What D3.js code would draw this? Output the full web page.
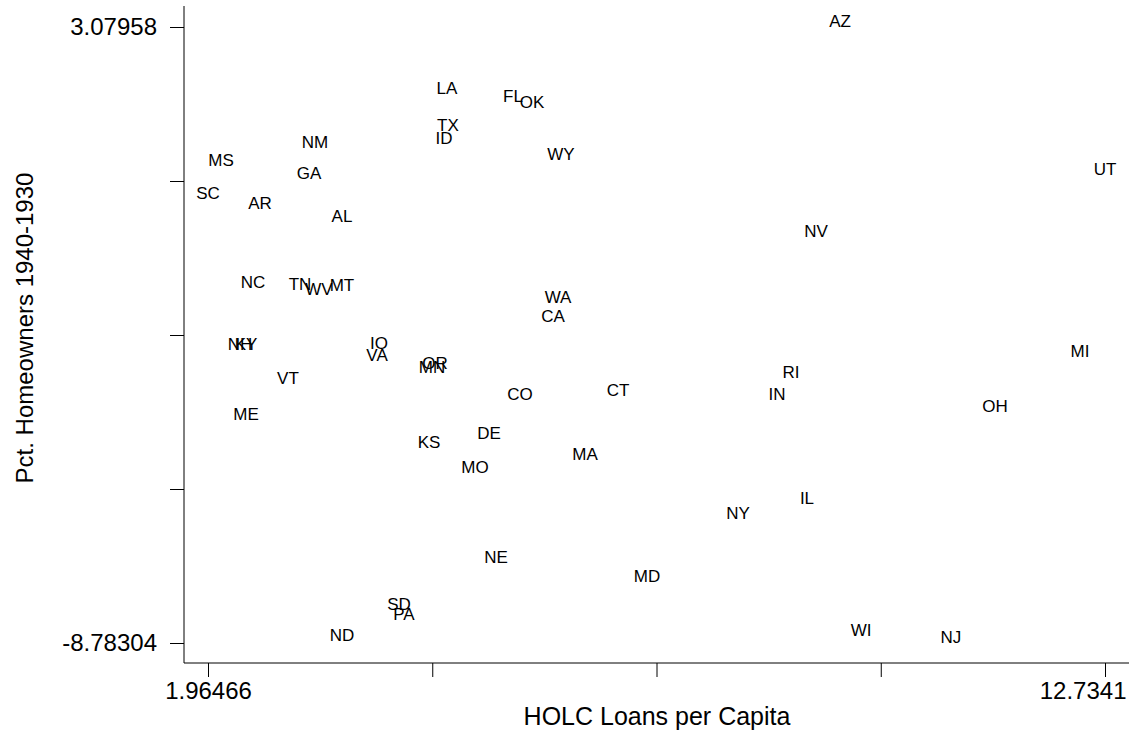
<!DOCTYPE html>
<html>
<head>
<meta charset="utf-8">
<script src="https://cdn.jsdelivr.net/npm/d3@7"></script>
<style>
  body { margin: 0; background: #fff; }
  svg { font-family: "Liberation Sans", Arial, sans-serif; }
</style>
</head>
<body>
<div id="chart"></div>
<script>
// state labels, HOLC loans per capita, change in pct homeowners
const states = ['AZ','LA','FL','OK','TX','ID','NM','MS','WY','GA','UT','SC','AR','AL','NV',
  'NC','TN','WV','MT','WA','CA','NH','KY','IO','VA','OR','MN','MI','RI','VT','IN','CO','CT',
  'OH','ME','DE','KS','MA','MO','IL','NY','NE','MD','SD','PA','WI','ND','NJ'];
const loans = [9.553,4.834,5.627,5.855,4.846,4.798,3.249,2.121,6.203,3.177,12.7341,1.96466,2.589,3.573,9.264,
  2.505,3.069,3.297,3.573,6.167,6.107,2.349,2.421,4.018,3.994,4.690,4.654,12.434,8.964,2.925,8.796,5.711,6.887,
  11.413,2.421,5.338,4.618,6.491,5.170,9.156,8.328,5.422,7.235,4.258,4.318,9.805,3.573,10.885];
const homeowners = [3.07958,1.780,1.626,1.529,1.086,0.817,0.759,0.412,0.509,0.162,0.229,-0.242,-0.416,-0.685,-0.974,
  -1.956,-1.976,-2.091,-2.014,-2.226,-2.592,-3.150,-3.150,-3.112,-3.343,-3.516,-3.593,-3.275,-3.689,-3.786,-4.094,-4.094,-4.036,
  -4.344,-4.498,-4.845,-5.037,-5.268,-5.500,-6.097,-6.386,-7.252,-7.599,-8.157,-8.331,-8.639,-8.735,-8.78304];

const xMin = 1.96466, xMax = 12.7341;
const yMin = -8.78304, yMax = 3.07958;
const xTickLabels = ['1.96466','','','','12.7341'];
const yTickLabels = ['-8.78304','','','','3.07958'];

const width = 1135;
const height = 737;

const svg = d3.select('#chart')
.append('svg')
.attr('width', width)
.attr('height', height);

const x = d3.scaleLinear().domain([xMin, xMax]).range([208, 1105]);
const y = d3.scaleLinear().domain([yMin, yMax]).range([643, 27]);

const xTicks = d3.range(5).map(i => xMin + i*(xMax - xMin)/4);
const yTicks = d3.range(5).map(i => yMin + i*(yMax - yMin)/4);

const axisX = 184, axisY = 663;

const gx = svg.append('g')
.attr('transform', `translate(0,${axisY})`)
.call(d3.axisBottom(x).tickValues(xTicks).tickSize(14).tickPadding(5)
  .tickFormat((d, i) => xTickLabels[i]));

const gy = svg.append('g')
.attr('transform', `translate(${axisX},0)`)
.call(d3.axisLeft(y).tickValues(yTicks).tickSize(14).tickPadding(13)
  .tickFormat((d, i) => yTickLabels[i]));

[gx, gy].forEach(g => {
  g.select('.domain').remove();
  g.selectAll('line').attr('stroke', '#000');
  g.selectAll('text').attr('font-size', 24).attr('fill', '#000')
    .attr('font-family', '"Liberation Sans", Arial, sans-serif');
});

// last x label is pulled inside the page like the original
gx.selectAll('.tick:last-of-type text')
.attr('text-anchor', 'end')
.attr('dx', 21);

// axis lines
svg.append('line')
.attr('x1', axisX).attr('x2', axisX).attr('y1', 6).attr('y2', axisY)
.attr('stroke', '#000');
svg.append('line')
.attr('x1', axisX).attr('x2', 1129).attr('y1', axisY).attr('y2', axisY)
.attr('stroke', '#000');

// marker labels
svg.append('g')
.selectAll('text')
.data(states)
.enter()
.append('text')
.attr('x', (d, i) => x(loans[i]))
.attr('y', (d, i) => y(homeowners[i]))
.attr('text-anchor', 'middle')
.attr('font-size', 17)
.attr('fill', '#000')
.text(d => d);

// titles
svg.append('text')
.attr('x', 657)
.attr('y', 725)
.attr('text-anchor', 'middle')
.attr('font-size', 25)
.text('HOLC Loans per Capita');

svg.append('text')
.attr('transform', 'translate(33,328) rotate(-90)')
.attr('text-anchor', 'middle')
.attr('font-size', 24)
.text('Pct. Homeowners 1940-1930');
</script>
</body>
</html>
